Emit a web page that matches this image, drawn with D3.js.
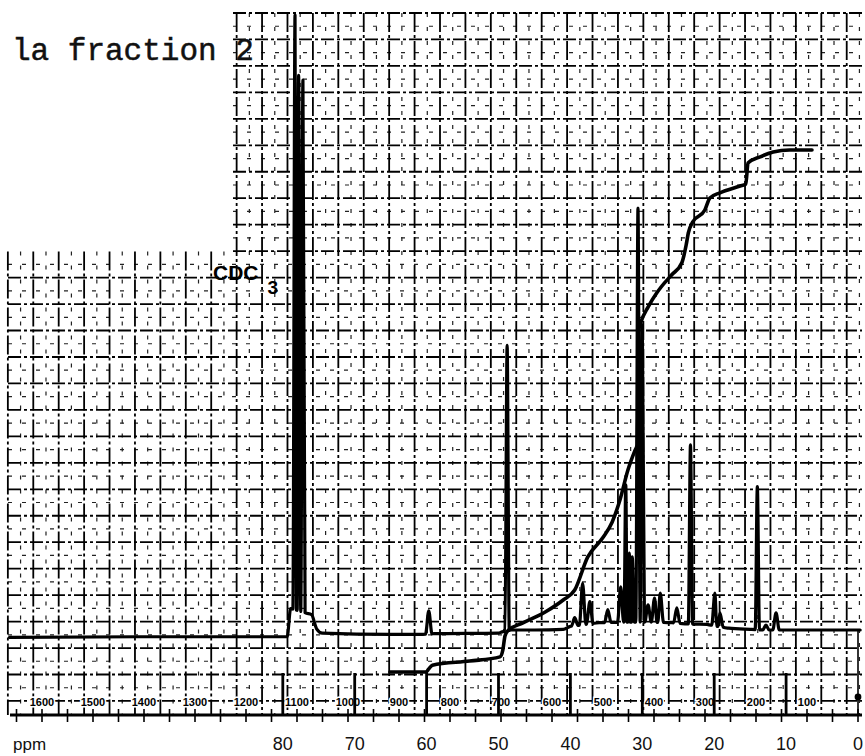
<!DOCTYPE html>
<html><head><meta charset="utf-8">
<script src="https://cdn.jsdelivr.net/npm/d3@7"></script>
<style>html,body{margin:0;padding:0;background:#fff;} svg{display:block;}</style>
</head><body>
<svg id="c" width="865" height="756"></svg>
<script>
// ---------------- data ----------------
const titleText = "la fraction 2";
const solventText = "CDC";
const solventSub = "3";
const axisUnit = "ppm";
const ppmTicks = [80, 70, 60, 50, 40, 30, 20, 10, 0];
const hzLabels = [1600, 1500, 1400, 1300, 1200, 1100, 1000, 900, 800, 700, 600, 500, 400, 300, 200, 100];
const hzMinorTicks = [0,50,100,150,200,250,300,350,400,450,500,550,600,650,700,750,800,850,900,950,1000,1050,1100,1150,1200,1250,1300,1350,1400,1450,1500,1550,1600,1650];

// peak positions (ppm) and heights (relative intensity)
const peakPpm    = [78.3, 77.8, 77.2, 59.7, 48.8, 39.4, 38.3, 37.3, 34.8, 33.0, 32.3, 31.8, 31.4, 30.6, 30.0, 29.2, 28.3, 27.5, 25.2, 23.3, 19.9, 19.2, 14.0, 12.8, 11.4];
const peakHeight = [100, 90.2, 89.4, 3.1, 46.3, 2.0, 7.6, 4.6, 3.3, 7.0, 23.6, 12.5, 11.9, 68.6, 49.6, 4.1, 5.2, 6.0, 3.6, 30.1, 6.0, 2.8, 23.3, 0.8, 2.8];

// baseline drift of the spectrum
const baselinePpm   = [118, 100, 80, 79.4, 78.9, 76.0, 75.3, 74.5, 65, 60.5, 59, 50, 49.5, 48.3, 45, 41, 40, 36, 30, 26, 24, 21, 18, 15, 13, 10, 5, 0, -0.3];
const baselineLevel = [-1.2, -1.1, -1.1, -1.1, 3.5, 2.5, 0.2, -0.5, -0.7, -0.7, -0.6, -0.5, -0.3, 0, 0, 0.1, 0.6, 1.2, 1.3, 1.2, 1.0, 0.9, 0.3, 0.1, 0, 0, 0, 0, 0];

// integral trace (ppm, cumulative %)
const integralPpm   = [65.1, 60.1, 59.7, 59.2, 54.0, 49.8, 49.4, 49.1, 48.7, 46.6, 43.5, 41.0, 39.4, 37.6, 35.5, 34.2, 33.1, 32.0, 31.0, 30.7, 30.6, 30.5, 30.2, 29.2, 28.0, 27.3, 25.9, 24.5, 23.9, 23.6, 23.0, 21.3, 20.6, 19.2, 16.4, 15.6, 15.3, 13.6, 11.8, 9.5, 6.4];
const integralValue = [0, 0, 0.6, 1.3, 2.1, 2.9, 4.2, 6.9, 7.9, 9.4, 11.5, 13.8, 15.7, 22.0, 25.7, 28.7, 33.0, 38.7, 42.5, 43.5, 52.1, 65.5, 67.0, 69.9, 72.6, 73.9, 76.1, 78.4, 81.8, 84.1, 86.2, 88.5, 90.8, 91.8, 93.1, 93.5, 97.5, 98.7, 99.6, 100, 100];

// ---------------- scales ----------------
const svg = d3.select("#c");
const x = d3.scaleLinear().domain([0, 80]).range([858, 282.8]);
const y = d3.scaleLinear().domain([0, 100]).range([630, 15]);
const yInt = d3.scaleLinear().domain([0, 100]).range([672, 150]);
const hz = d3.scaleLinear().domain([0, 1600]).range([858, 42]);
const base = d3.scaleLinear().domain(baselinePpm).range(baselineLevel).clamp(true);

// ---------------- chart paper grid ----------------
const gx0 = 440, gdx = 25.42, gy0 = 13, gdy = 26.46;
const cornerX = 233, cornerY = 251.5, rightX = 862, bottomY = 715, leftX = 8;
const vMajor = d3.range(-17, 17).map(k => gx0 + gdx * k);
const hMajor = d3.range(0, 27).map(k => gy0 + gdy * k);
const vMinor = d3.range(-17, 17).map(k => gx0 + gdx * (k + 0.5)).filter(v => v < rightX);
const hMinor = d3.range(0, 26).map(k => gy0 + gdy * (k + 0.5));

const grid = svg.append("g");
grid.selectAll(".vmin").data(vMinor).join("line")
  .attr("x1", d => d).attr("x2", d => d)
  .attr("y1", d => d >= cornerX ? gy0 : cornerY).attr("y2", bottomY)
  .attr("stroke", "#222").attr("stroke-width", 1.2).attr("stroke-dasharray", "4,10");
grid.selectAll(".hmin").data(hMinor).join("line")
  .attr("y1", d => d).attr("y2", d => d)
  .attr("x1", d => d >= cornerY ? leftX : cornerX).attr("x2", rightX)
  .attr("stroke", "#222").attr("stroke-width", 1.2).attr("stroke-dasharray", "4,10");
grid.selectAll(".vmaj").data(vMajor).join("line")
  .attr("x1", d => d).attr("x2", d => d)
  .attr("y1", d => d >= cornerX ? gy0 : cornerY).attr("y2", bottomY)
  .attr("stroke", "#000").attr("stroke-width", 1.8).attr("stroke-dasharray", "19,3,3,3");
grid.selectAll(".hmaj").data(hMajor).join("line")
  .attr("y1", d => d).attr("y2", d => d)
  .attr("x1", d => d >= cornerY - 0.1 ? leftX : cornerX).attr("x2", rightX)
  .attr("stroke", "#000").attr("stroke-width", 1.8).attr("stroke-dasharray", "13,3,3,3");

// ---------------- bottom scales ----------------
svg.append("g").selectAll("line").data(hzMinorTicks).join("line")
  .attr("x1", d => hz(d)).attr("x2", d => hz(d))
  .attr("y1", 709).attr("y2", 722)
  .attr("stroke", "#000").attr("stroke-width", 1.6);
svg.append("g").selectAll("text").data(hzLabels).join("text")
  .attr("x", d => hz(d)).attr("y", 706)
  .attr("text-anchor", "middle")
  .attr("font-family", "'Liberation Sans Narrow','Liberation Sans',Arial,sans-serif")
  .attr("font-weight", "bold").attr("font-size", 11)
  .attr("stroke", "#fff").attr("stroke-width", 3).attr("paint-order", "stroke")
  .attr("fill", "#000").text(d => d);
svg.append("g").selectAll("line").data(ppmTicks.filter(d => d > 0)).join("line")
  .attr("x1", d => x(d)).attr("x2", d => x(d))
  .attr("y1", 673).attr("y2", 715)
  .attr("stroke", "#000").attr("stroke-width", 2.8);
svg.append("line").attr("x1", x(0)).attr("x2", x(0)).attr("y1", y(0)).attr("y2", 715)
  .attr("stroke", "#000").attr("stroke-width", 1.6);
svg.append("circle").attr("cx", x(0)).attr("cy", 697).attr("r", 3.4).attr("fill", "#000");
svg.append("line").attr("x1", 10).attr("x2", 862).attr("y1", 715).attr("y2", 715)
  .attr("stroke", "#000").attr("stroke-width", 2.8);
svg.append("g").selectAll("text").data(ppmTicks).join("text")
  .attr("x", d => x(d)).attr("y", 750)
  .attr("text-anchor", "middle")
  .attr("font-family", "'Liberation Sans',Arial,sans-serif")
  .attr("font-size", 18).attr("fill", "#111").text(d => d);
svg.append("text").attr("x", 13).attr("y", 750)
  .attr("font-family", "'Liberation Sans',Arial,sans-serif")
  .attr("font-size", 17).attr("fill", "#111").text(axisUnit);

// ---------------- spectrum ----------------
const peaks = peakPpm.map((p, i) => ({p, h: peakHeight[i], hw: peakHeight[i] < 10 ? 0.45 : 0.3}));
const inPeak = q => peaks.some(k => q < k.p + k.hw && q > k.p - k.hw);
let pts = baselinePpm.filter(q => !inPeak(q)).map(q => [q, base(q)]);
peaks.forEach(k => {
  pts.push([k.p + k.hw, base(k.p + k.hw)]);
  pts.push([k.p, k.h]);
  pts.push([k.p - k.hw, base(k.p - k.hw)]);
});
pts.sort((a, b) => b[0] - a[0]);
const specLine = d3.line().x(d => x(d[0])).y(d => y(d[1])).curve(d3.curveMonotoneX);
svg.append("path").attr("d", specLine(pts))
  .attr("fill", "none").attr("stroke", "#000").attr("stroke-width", 3.2)
  .attr("stroke-linejoin", "round").attr("stroke-linecap", "round");

// ---------------- integral ----------------
const intPts = integralPpm.map((p, i) => [p, integralValue[i]]);
const intLine = d3.line().x(d => x(d[0])).y(d => yInt(d[1])).curve(d3.curveMonotoneX);
svg.append("path").attr("d", intLine(intPts))
  .attr("fill", "none").attr("stroke", "#000").attr("stroke-width", 3.6)
  .attr("stroke-linejoin", "round").attr("stroke-linecap", "round");

// ---------------- labels ----------------
svg.append("text").attr("x", 12).attr("y", 60)
  .attr("font-family", "'Liberation Mono','DejaVu Sans Mono',monospace")
  .attr("font-size", 31).attr("fill", "#111")
  .attr("stroke", "#111").attr("stroke-width", 0.5)
  .text(titleText);
const sol = svg.append("text").attr("x", 213).attr("y", 280)
  .attr("font-family", "'Liberation Sans',Arial,sans-serif")
  .attr("font-size", 21).attr("font-weight", "bold").attr("fill", "#000");
sol.append("tspan").text(solventText);
sol.append("tspan").attr("dx", 9).attr("dy", 14).attr("font-size", 19).text(solventSub);
</script>
</body></html>
